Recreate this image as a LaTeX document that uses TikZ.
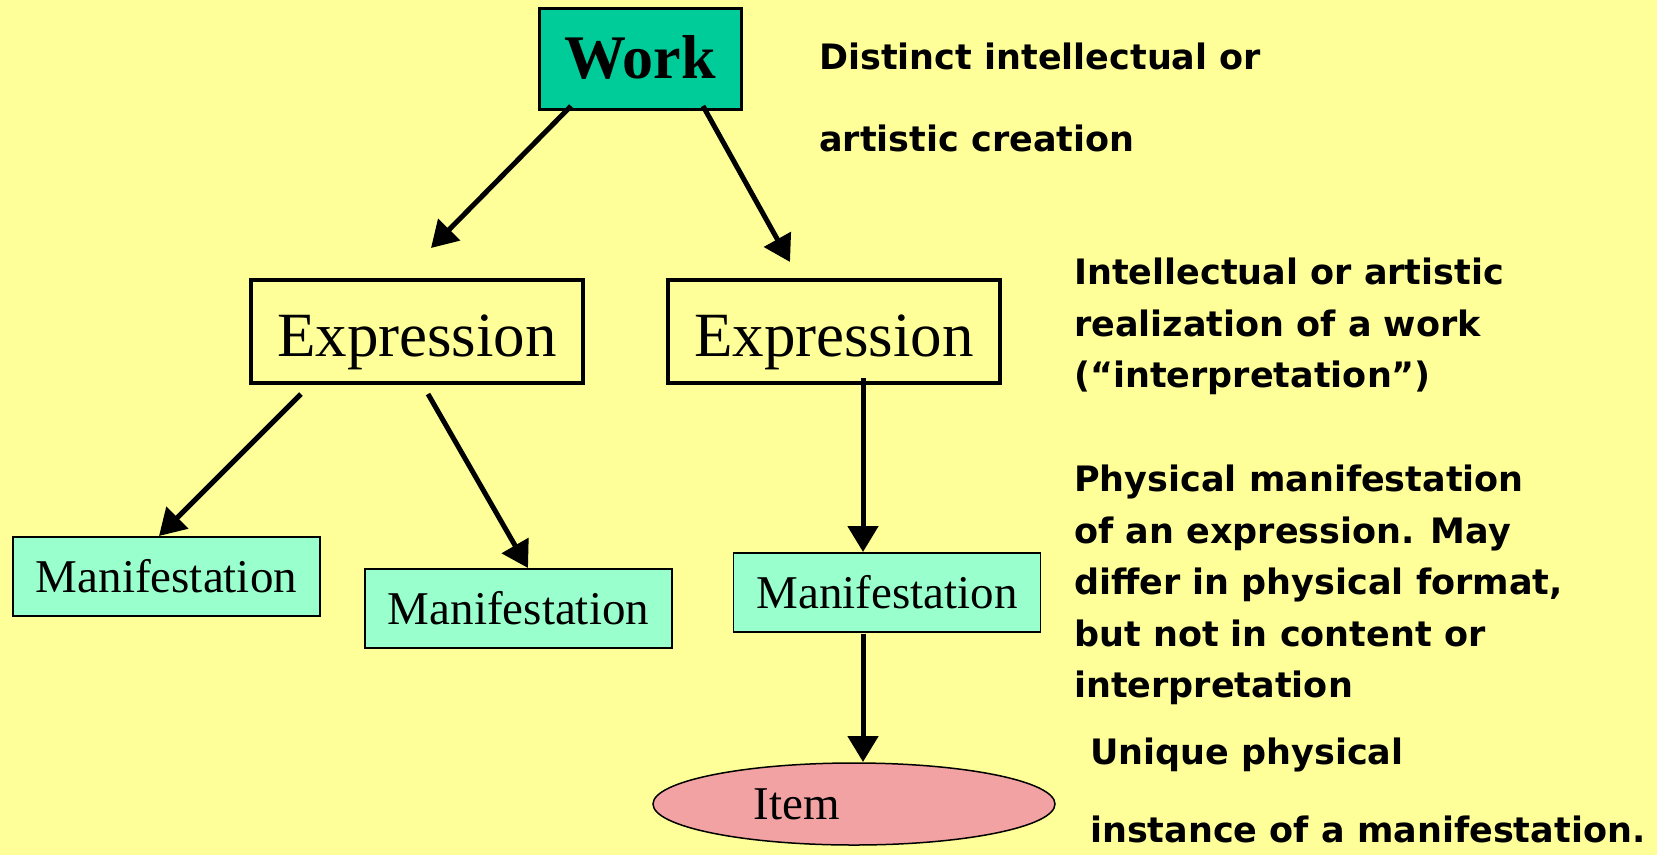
\documentclass[tikz,border=0pt]{standalone}
\usepackage{fontspec}
\setmainfont{Liberation Serif}
\newfontfamily\descfont{DejaVu Sans}
\usetikzlibrary{arrows.meta,shapes.geometric}
\definecolor{bgyellow}{RGB}{255,255,153}
\definecolor{workfill}{RGB}{0,204,153}
\definecolor{manfill}{RGB}{153,255,204}
\definecolor{itemfill}{RGB}{242,162,162}
\begin{document}
\begin{tikzpicture}[x=1pt,y=-1pt,
  workbox/.style={draw=black,line width=3pt,fill=workfill,minimum width=202pt,minimum height=101pt,inner sep=0pt,text height=40pt,text depth=0pt,font=\fontsize{62}{70}\selectfont\bfseries},
  exprbox/.style={draw=black,line width=4.5pt,fill=bgyellow,minimum width=332pt,minimum height=103pt,inner sep=0pt,text height=49pt,text depth=0pt,font=\fontsize{63}{70}\selectfont},
  manbox/.style={draw=black,line width=1.3pt,fill=manfill,minimum width=307pt,minimum height=79pt,inner sep=0pt,font=\fontsize{47}{52}\selectfont},
  itemshape/.style={ellipse,draw=black,line width=1.5pt,fill=itemfill,minimum width=402pt,minimum height=82pt,inner sep=0pt},
  desc/.style={anchor=north west,inner sep=0pt,align=left,font=\descfont\bfseries\fontsize{35}{51.5}\selectfont},
  arr/.style={line width=5pt,-{Triangle[length=26pt,width=30pt]}}]
\useasboundingbox (0,0) rectangle (1657,855);
\fill[bgyellow] (0,0) rectangle (1657,855);

% nodes
\node[workbox] (work) at (640,58.5) {Work};
\node[exprbox] (expr1) at (417,331.5) {Expression};
\node[exprbox] (expr2) at (834,331.5) {Expression};
\node[manbox] (man1) at (166.5,576.5) {Manifestation};
\node[manbox] (man2) at (518.5,608.5) {Manifestation};
\node[manbox] (man3) at (887,592.5) {Manifestation};
\node[itemshape] (item) at (854,804) {};
\node[inner sep=0pt,font=\fontsize{47}{52}\selectfont] (itemlabel) at (797,804) {Item};

% connector end points
\coordinate (w1) at (571,106);
\coordinate (w2) at (703,106);
\coordinate (e1a) at (431,248);
\coordinate (e2a) at (790,262);
\coordinate (x1a) at (301,394);
\coordinate (x1b) at (428,394);
\coordinate (m1t) at (159,536);
\coordinate (m2t) at (528,568);
\coordinate (x2s) at (863,378);
\coordinate (m3t) at (863,552);
\coordinate (m3b) at (863,634);
\coordinate (itt) at (863,762);

% connectors
\draw[arr] (w1) -- (e1a);
\draw[arr] (w2) -- (e2a);
\draw[arr] (x1a) -- (m1t);
\draw[arr] (x1b) -- (m2t);
\draw[arr] (x2s) -- (m3t);
\draw[arr] (m3b) -- (itt);

% descriptions
\node[desc] (d1) at (819,43) {Distinct intellectual or};
\node[desc] (d2) at (819,125) {artistic creation};
\node[desc] (d3) at (1074,258) {Intellectual or artistic\\realization of a work\\(“interpretation”)};
\node[desc] (d4) at (1074,465) {Physical manifestation\\of an expression. May\\differ in physical format,\\but not in content or\\interpretation};
\node[desc] (d5) at (1090,738) {Unique physical};
\node[desc] (d6) at (1090,816) {instance of a manifestation.};
\end{tikzpicture}
\end{document}
